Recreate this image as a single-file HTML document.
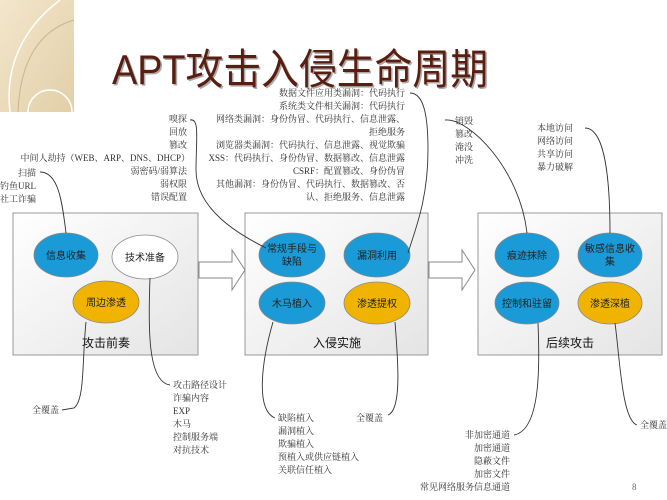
<!DOCTYPE html>
<html><head><meta charset="utf-8"><style>
html,body{margin:0;padding:0;background:#fff;}
svg{display:block;}
.t{font-family:"Liberation Serif","Noto Serif CJK SC",serif;font-size:9px;fill:#333;}
.e{font-family:"Liberation Sans","Noto Sans CJK SC",sans-serif;font-size:10px;fill:#222;}
.b{font-family:"Liberation Sans","Noto Sans CJK SC",sans-serif;font-size:12px;fill:#111;}
.c{fill:none;stroke:#333;stroke-width:0.9;}
</style></head><body>
<svg width="667" height="500" viewBox="0 0 667 500" xmlns="http://www.w3.org/2000/svg">
<defs>
<linearGradient id="g" x1="0" y1="0" x2="1" y2="1"><stop offset="0" stop-color="#ffffff"/><stop offset="1" stop-color="#e4e4e4"/></linearGradient>
<linearGradient id="bg" x1="0" y1="0" x2="1" y2="1"><stop offset="0" stop-color="#f3e6cc"/><stop offset="1" stop-color="#e2cfa8"/></linearGradient>
</defs>
<rect x="0" y="0" width="74" height="112" fill="url(#bg)"/>
<path d="M60 0 C20 30 5 70 10 112" fill="none" stroke="#fff" stroke-width="1.5"/>
<path d="M74 20 C40 30 20 60 18 112" fill="none" stroke="#c9b48c" stroke-width="1"/>
<circle cx="50" cy="112" r="22" fill="none" stroke="#fff" stroke-width="1.5"/>
<text x="112" y="84" font-family="'Liberation Sans','Noto Sans CJK SC',sans-serif" font-size="42" fill="#aaa" transform="translate(1.5,1.5)" textLength="376" lengthAdjust="spacingAndGlyphs">APT攻击入侵生命周期</text>
<text x="112" y="84" font-family="'Liberation Sans','Noto Sans CJK SC',sans-serif" font-size="42" fill="#5a1e10" textLength="376" lengthAdjust="spacingAndGlyphs">APT攻击入侵生命周期</text>

<!-- boxes -->
<rect x="13" y="213" width="185" height="142" fill="url(#g)" stroke="#999"/>
<rect x="245" y="213" width="183" height="142" fill="url(#g)" stroke="#999"/>
<rect x="478" y="213" width="184" height="142" fill="url(#g)" stroke="#999"/>
<!-- arrows -->
<path d="M199 262 H232 V250 L245 270 L232 290 V278 H199 Z" fill="#fff" stroke="#888"/>
<path d="M429 262 H462 V250 L475 270 L462 290 V278 H429 Z" fill="#fff" stroke="#888"/>

<g stroke="#888" stroke-width="0.8">
<ellipse cx="66" cy="255" rx="32" ry="22" fill="#1a9ad6"/>
<ellipse cx="145" cy="257" rx="33" ry="22" fill="#fff"/>
<ellipse cx="106" cy="302" rx="33" ry="21" fill="#f0b400"/>
<ellipse cx="292" cy="255" rx="33" ry="22" fill="#1a9ad6"/>
<ellipse cx="377" cy="255" rx="33" ry="22" fill="#1a9ad6"/>
<ellipse cx="292" cy="303" rx="33" ry="21" fill="#1a9ad6"/>
<ellipse cx="377" cy="303" rx="33" ry="21" fill="#f0b400"/>
<ellipse cx="527" cy="255" rx="32" ry="22" fill="#1a9ad6"/>
<ellipse cx="610" cy="255" rx="32" ry="22" fill="#1a9ad6"/>
<ellipse cx="527" cy="303" rx="32" ry="21" fill="#1a9ad6"/>
<ellipse cx="610" cy="303" rx="32" ry="21" fill="#f0b400"/>
</g>
<g class="e" text-anchor="middle">
<text x="66" y="259">信息收集</text>
<text x="145" y="261">技术准备</text>
<text x="106" y="306">周边渗透</text>
<text x="292" y="252">常规手段与</text><text x="292" y="265">缺陷</text>
<text x="377" y="259">漏洞利用</text>
<text x="292" y="307">木马植入</text>
<text x="377" y="307">渗透提权</text>
<text x="527" y="259">痕迹抹除</text>
<text x="610" y="252">敏感信息收</text><text x="610" y="265">集</text>
<text x="527" y="307">控制和驻留</text>
<text x="610" y="307">渗透深植</text>
</g>
<g class="b" text-anchor="middle">
<text x="106" y="347">攻击前奏</text>
<text x="337" y="347">入侵实施</text>
<text x="570" y="347">后续攻击</text>
</g>

<!-- annotations -->
<g class="t" text-anchor="end">
<text x="405" y="96">数据文件应用类漏洞：代码执行</text>
<text x="405" y="109">系统类文件相关漏洞：代码执行</text>
<text x="405" y="122">网络类漏洞：身份伪冒、代码执行、信息泄露、</text>
<text x="405" y="135">拒绝服务</text>
<text x="405" y="148">浏览器类漏洞：代码执行、信息泄露、视觉欺骗</text>
<text x="405" y="161">XSS：代码执行、身份伪冒、数据篡改、信息泄露</text>
<text x="405" y="174">CSRF：配置篡改、身份伪冒</text>
<text x="405" y="187">其他漏洞：身份伪冒、代码执行、数据篡改、否</text>
<text x="405" y="200">认、拒绝服务、信息泄露</text>
<text x="187" y="122">嗅探</text>
<text x="187" y="135">回放</text>
<text x="187" y="148">篡改</text>
<text x="190" y="161">中间人劫持（WEB、ARP、DNS、DHCP）</text>
<text x="187" y="174">弱密码/弱算法</text>
<text x="187" y="187">弱权限</text>
<text x="187" y="200">错误配置</text>
<text x="36" y="176">扫描</text>
<text x="36" y="189">钓鱼URL</text>
<text x="36" y="202">社工诈骗</text>
<text x="510" y="438">非加密通道</text>
<text x="510" y="451">加密通道</text>
<text x="510" y="464">隐蔽文件</text>
<text x="510" y="477">加密文件</text>
<text x="510" y="490">常见网络服务信息通道</text>
</g>
<g class="t">
<text x="455" y="124">销毁</text>
<text x="455" y="137">篡改</text>
<text x="455" y="150">淹没</text>
<text x="455" y="163">冲洗</text>
<text x="537" y="131">本地访问</text>
<text x="537" y="144">网络访问</text>
<text x="537" y="157">共享访问</text>
<text x="537" y="170">暴力破解</text>
<text x="173" y="388">攻击路径设计</text>
<text x="173" y="401">诈骗内容</text>
<text x="173" y="414">EXP</text>
<text x="173" y="427">木马</text>
<text x="173" y="440">控制服务端</text>
<text x="173" y="453">对抗技术</text>
<text x="32" y="413">全覆盖</text>
<text x="278" y="421">缺陷植入</text>
<text x="278" y="434">漏洞植入</text>
<text x="278" y="447">欺骗植入</text>
<text x="278" y="460">预植入或供应链植入</text>
<text x="278" y="473">关联信任植入</text>
<text x="356" y="421">全覆盖</text>
<text x="640" y="428">全覆盖</text>
<text x="632" y="490" fill="#666">8</text>
</g>

<!-- connectors -->
<g class="c">
<path d="M40 172 C58 172 62 200 66 233"/>
<path d="M190 120 C200 118 196 140 196 170 C196 210 240 235 266 248"/>
<path d="M410 93 C425 93 428 120 428 150 C428 200 415 230 408 253"/>
<path d="M445 120 C470 118 520 170 527 233"/>
<path d="M585 128 C605 128 610 180 610 233"/>
<path d="M86 322 C82 360 85 400 74 408 L62 410"/>
<path d="M150 278 C148 330 148 382 170 385"/>
<path d="M273 322 C262 360 255 410 275 418"/>
<path d="M395 322 C398 360 402 410 388 415"/>
<path d="M538 323 C540 370 540 430 514 435"/>
<path d="M615 323 C620 360 622 420 637 425"/>
</g>
</svg>
</body></html>
